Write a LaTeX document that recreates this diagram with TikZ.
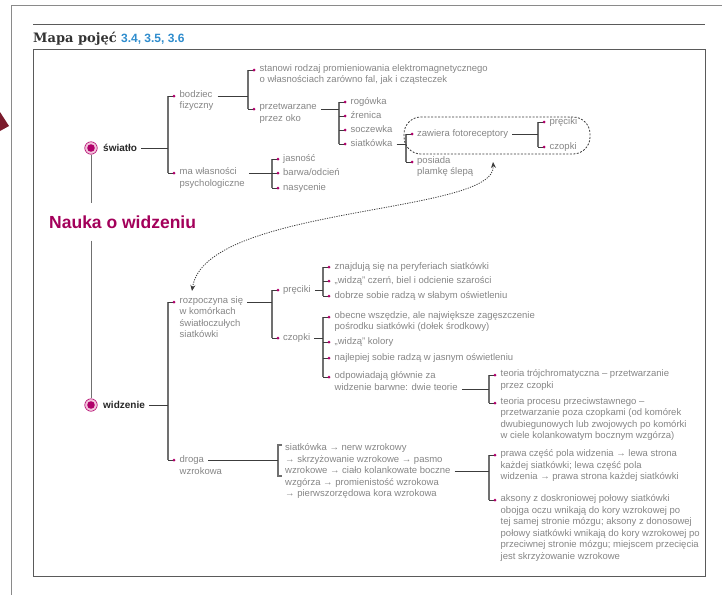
\documentclass[tikz,border=0pt]{standalone}
\usepackage{fontspec}
\setmainfont{Liberation Sans}
\newfontfamily\titlefont{DejaVu Serif}
\usetikzlibrary{arrows.meta}
\usetikzlibrary{positioning}

\definecolor{txtgray}{HTML}{858585}
\definecolor{stemgray}{HTML}{3C3C3C}
\definecolor{forkgray}{HTML}{707070}
\definecolor{dotmag}{HTML}{B0006A}
\definecolor{ringpink}{HTML}{F2C2DA}
\definecolor{naukamag}{HTML}{A3005A}
\definecolor{titleblue}{HTML}{2E8CCD}
\definecolor{titlegray}{HTML}{333333}
\definecolor{framegray}{HTML}{8A8A8A}
\definecolor{boxgray}{HTML}{5A5A5A}
\definecolor{arrowred}{HTML}{7B1B2C}

\newcommand{\leaffont}{\fontsize{9.5}{11.5}\selectfont}

\tikzset{
  leaf/.style={anchor=north west, inner sep=0pt, align=left, font=\leaffont,
    text=txtgray, execute at begin node=\strut},
  head/.style={anchor=west, inner sep=0pt, font=\bfseries\fontsize{10}{12}\selectfont, text=black!85},
  stem/.style={draw=stemgray, line width=0.8pt, shorten <=4pt},
  fork/.style={draw=forkgray, line width=1.2pt},
  tick/.style={draw=stemgray, line width=0.8pt},
  ring/.style={circle, draw=dotmag, line width=0.6pt, fill=ringpink, minimum size=12.5pt, inner sep=0pt},
  groupline/.style={draw=stemgray, line width=0.8pt, dash pattern=on 2pt off 1.5pt, rounded corners=17pt},
  linkline/.style={draw=stemgray, line width=0.8pt, dash pattern=on 1.2pt off 1.2pt,
    {Stealth[length=6pt,width=5pt]}-{Stealth[length=6pt,width=5pt]}},
}

\begin{document}
\begin{tikzpicture}[x=1pt, y=-1pt]
  \useasboundingbox (0,0) rectangle (722,595);

  % Page frame and heading
  \draw[framegray, line width=0.8pt] (722,5) -- (11,5) -- (11,595);
  \fill[arrowred] (0,112) -- (9,126) -- (0,131) -- cycle;
  \draw[boxgray, line width=1pt] (33,24) -- (705,24);
  \node[anchor=base west, inner sep=0pt, text=titlegray,
    font=\titlefont\bfseries\fontsize{13}{15}\selectfont] (title) at (33,42) {Mapa pojęć};
  \node[anchor=base west, inner sep=0pt, text=titleblue,
    font=\bfseries\fontsize{12}{14}\selectfont] (nums) at ([xshift=4pt]title.base east) {3.4, 3.5, 3.6};
  \draw[boxgray, line width=1pt] (33,49) rectangle (705,576);

  % Main concepts
  \node[ring] (cS) at (91,148) {};
  \fill[dotmag] (cS.center) circle (3.8pt);
  \node[head] (swiatlo) at (103,148) {światło};
  \node[ring] (cW) at (91,405) {};
  \fill[dotmag] (cW.center) circle (3.8pt);
  \node[head] (widzenie) at (103,405) {widzenie};
  \node[anchor=west, inner xsep=0pt, inner ysep=12pt, text=naukamag,
    font=\bfseries\fontsize{17.5}{20}\selectfont] (nauka) at (49,222) {Nauka o widzeniu};
  \draw[forkgray, line width=1pt] (cS.south) -- (cS.south |- nauka.north);
  \draw[forkgray, line width=1pt] (cW.north |- nauka.south) -- (cW.north);

  % Junctions
  \coordinate (fA) at (168,148);
  \coordinate (fB) at (248,96);
  \coordinate (fC) at (339,109);
  \coordinate (fD) at (406,144);
  \coordinate (fE) at (538,134);
  \coordinate (fF) at (272,173);
  \coordinate (fG) at (168,405);
  \coordinate (fH) at (272,302);
  \coordinate (fI) at (323,290);
  \coordinate (fJ) at (323,338);
  \coordinate (fK) at (489,389);
  \coordinate (fM) at (278,460);
  \coordinate (fL) at (489,471);

  % swiatlo
  \draw[fork] (168,96) -- (168,173);
  \foreach \n/\y/\t in {bodz/96/{bodziec\\fizyczny}, wlas/173/{ma własności\\psychologiczne}} {
    \draw[tick] (168,\y) -- (174,\y);
    \fill[dotmag] (174,\y) circle (1.5pt);
    \node[leaf] (\n) at (179.5,\y-5.6) {\t};
  }

  \draw[fork] (248,70) -- (248,109);
  \foreach \n/\y/\t in {stan/70/{stanowi rodzaj promieniowania elektromagnetycznego\\o własnościach zarówno fal, jak i cząsteczek},
      przetw/109/{przetwarzane\\przez oko}} {
    \draw[tick] (248,\y) -- (254,\y);
    \fill[dotmag] (254,\y) circle (1.5pt);
    \node[leaf] (\n) at (259.5,\y-5.6) {\t};
  }

  \draw[fork] (339,102) -- (339,144);
  \foreach \n/\y/\t in {rog/102/{rogówka}, zren/116/{źrenica}, socz/130/{soczewka}, siat/144/{siatkówka}} {
    \draw[tick] (339,\y) -- (345,\y);
    \fill[dotmag] (345,\y) circle (1.5pt);
    \node[leaf] (\n) at (350.5,\y-5.6) {\t};
  }

  \draw[fork] (406,134) -- (406,162);
  \foreach \n/\y/\t in {zaw/134/{zawiera fotoreceptory}, pos/162/{posiada\\plamkę ślepą}} {
    \draw[tick] (406,\y) -- (412,\y);
    \fill[dotmag] (412,\y) circle (1.5pt);
    \node[leaf] (\n) at (417,\y-5.6) {\t};
  }

  \draw[fork] (538,122) -- (538,147);
  \foreach \n/\y/\t in {precA/122/{pręciki}, czopA/147/{czopki}} {
    \draw[tick] (538,\y) -- (544,\y);
    \fill[dotmag] (544,\y) circle (1.5pt);
    \node[leaf] (\n) at (549.5,\y-5.6) {\t};
  }

  \draw[fork] (272,159) -- (272,188);
  \foreach \n/\y/\t in {jas/159/{jasność}, barw/173/{barwa/odcień}, nas/188/{nasycenie}} {
    \draw[tick] (272,\y) -- (278,\y);
    \fill[dotmag] (278,\y) circle (1.5pt);
    \node[leaf] (\n) at (283,\y-5.6) {\t};
  }

  \draw[groupline] (404,117) rectangle (590,154);

  % widzenie
  \draw[fork] (168,302) -- (168,460);
  \foreach \n/\y/\t in {rozp/302/{rozpoczyna się\\w komórkach\\światłoczułych\\siatkówki}, drog/460/{droga}} {
    \draw[tick] (168,\y) -- (174,\y);
    \fill[dotmag] (174,\y) circle (1.5pt);
    \node[leaf] (\n) at (179.5,\y-5.6) {\t};
  }
  \node[leaf] (drogB) at (179.5,465.9) {wzrokowa};

  \draw[fork] (272,290) -- (272,338);
  \foreach \n/\y/\t in {precB/290/{pręciki}, czopB/338/{czopki}} {
    \draw[tick] (272,\y) -- (278,\y);
    \fill[dotmag] (278,\y) circle (1.5pt);
    \node[leaf] (\n) at (283,\y-5.6) {\t};
  }

  \draw[fork] (323,267) -- (323,296);
  \foreach \n/\y/\t in {zna/267/{znajdują się na peryferiach siatkówki},
      cze/281/{„widzą” czerń, biel i odcienie szarości},
      dob/296/{dobrze sobie radzą w słabym oświetleniu}} {
    \draw[tick] (323,\y) -- (329,\y);
    \fill[dotmag] (329,\y) circle (1.5pt);
    \node[leaf] (\n) at (334.5,\y-5.6) {\t};
  }

  \draw[fork] (323,317) -- (323,377);
  \foreach \n/\y/\t in {obe/317/{obecne wszędzie, ale największe zagęszczenie\\pośrodku siatkówki (dołek środkowy)},
      kol/342/{„widzą” kolory},
      naj/358/{najlepiej sobie radzą w jasnym oświetleniu},
      odp/377/{odpowiadają głównie za\\widzenie barwne: dwie teorie}} {
    \draw[tick] (323,\y) -- (329,\y);
    \fill[dotmag] (329,\y) circle (1.5pt);
    \node[leaf] (\n) at (334.5,\y-5.6) {\t};
  }

  \draw[fork] (489,375) -- (489,403);
  \foreach \n/\y/\t in {teoA/375/{teoria trójchromatyczna – przetwarzanie\\przez czopki},
      teoB/403/{teoria procesu przeciwstawnego –\\przetwarzanie poza czopkami (od komórek\\dwubiegunowych lub zwojowych po komórki\\w ciele kolankowatym bocznym wzgórza)}} {
    \draw[tick] (489,\y) -- (495,\y);
    \fill[dotmag] (495,\y) circle (1.5pt);
    \node[leaf] (\n) at (500.5,\y-5.6) {\t};
  }

  % droga wzrokowa
  \draw[fork] (282,445) -- (278,445) -- (278,476) -- (282,476);
  \node[leaf] (sciezka) at (285,443.4) {siatkówka → nerw wzrokowy\\→ skrzyżowanie wzrokowe → pasmo\\wzrokowe → ciało kolankowate boczne\\wzgórza → promienistość wzrokowa\\→ pierwszorzędowa kora wzrokowa};

  \draw[fork] (489,455) -- (489,500);
  \foreach \n/\y/\t in {prawa/455/{prawa część pola widzenia → lewa strona\\każdej siatkówki; lewa część pola\\widzenia → prawa strona każdej siatkówki},
      akso/500/{aksony z doskroniowej połowy siatkówki\\obojga oczu wnikają do kory wzrokowej po\\tej samej stronie mózgu; aksony z donosowej\\połowy siatkówki wnikają do kory wzrokowej po\\przeciwnej stronie mózgu; miejscem przecięcia\\jest skrzyżowanie wzrokowe}} {
    \draw[tick] (489,\y) -- (495,\y);
    \fill[dotmag] (495,\y) circle (1.5pt);
    \node[leaf] (\n) at (500.5,\y-5.6) {\t};
  }

  % Connectors
  \draw[stem] (swiatlo.east |- fA) -- (fA);
  \draw[stem] (bodz.east |- fB) -- (fB);
  \draw[stem] (przetw.east |- fC) -- (fC);
  \draw[stem] (siat.east |- fD) -- (fD);
  \draw[stem] (zaw.east |- fE) -- (fE);
  \draw[stem] (wlas.east |- fF) -- (fF);
  \draw[stem] (widzenie.east |- fG) -- (fG);
  \draw[stem] (rozp.east |- fH) -- (fH);
  \draw[stem] (precB.east |- fI) -- (fI);
  \draw[stem] (czopB.east |- fJ) -- (fJ);
  \draw[stem] (odp.east |- fK) -- (fK);
  \draw[stem] (drog.east |- fM) -- (fM);
  \draw[stem] (sciezka.east |- fL) -- (fL);

  % Link between the two kinds of photoreceptors
  \coordinate (arrA) at (192,291);
  \coordinate (arrB) at (493,162);
  \draw[linkline] (arrA) .. controls (205,205) and (497,215) .. (arrB);
\end{tikzpicture}
\end{document}
